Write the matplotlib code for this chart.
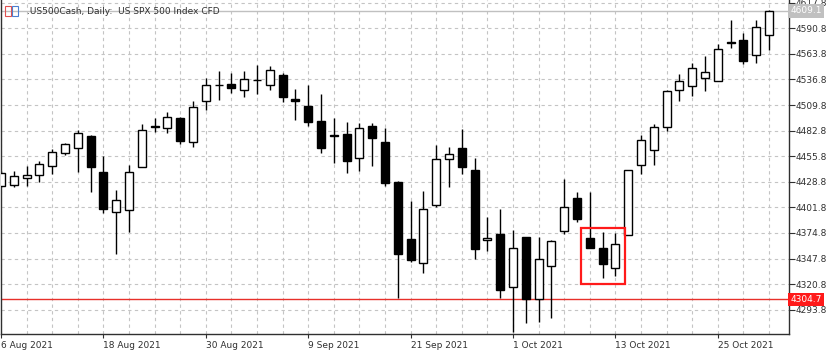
import matplotlib
matplotlib.use("Agg")
import matplotlib.pyplot as plt
from matplotlib.patches import Rectangle

# Daily OHLC values, 6 Aug 2021 .. 29 Oct 2021
dates = ["2021-08-06", "2021-08-09", "2021-08-10", "2021-08-11", "2021-08-12", "2021-08-13",
         "2021-08-16", "2021-08-17", "2021-08-18", "2021-08-19", "2021-08-20", "2021-08-23",
         "2021-08-24", "2021-08-25", "2021-08-26", "2021-08-27", "2021-08-30", "2021-08-31",
         "2021-09-01", "2021-09-02", "2021-09-03", "2021-09-06", "2021-09-07", "2021-09-08",
         "2021-09-09", "2021-09-10", "2021-09-13", "2021-09-14", "2021-09-15", "2021-09-16",
         "2021-09-17", "2021-09-20", "2021-09-21", "2021-09-22", "2021-09-23", "2021-09-24",
         "2021-09-27", "2021-09-28", "2021-09-29", "2021-09-30", "2021-10-01", "2021-10-04",
         "2021-10-05", "2021-10-06", "2021-10-07", "2021-10-08", "2021-10-11", "2021-10-12",
         "2021-10-13", "2021-10-14", "2021-10-15", "2021-10-18", "2021-10-19", "2021-10-20",
         "2021-10-21", "2021-10-22", "2021-10-25", "2021-10-26", "2021-10-27", "2021-10-28",
         "2021-10-29"]

opens = [4424.5, 4425.3, 4433.0, 4435.5, 4445.6, 4458.7, 4464.0, 4477.3, 4439.3, 4396.5,
         4398.9, 4444.3, 4487.5, 4486.1, 4496.2, 4470.3, 4514.6, 4531.0, 4532.1, 4525.8,
         4536.0, 4530.7, 4541.2, 4516.3, 4509.3, 4493.1, 4478.0, 4479.4, 4453.7, 4487.8,
         4470.3, 4428.8, 4368.3, 4343.4, 4403.9, 4453.0, 4464.3, 4441.4, 4367.3, 4373.9,
         4317.4, 4370.1, 4304.8, 4339.9, 4376.8, 4411.3, 4369.1, 4359.2, 4338.1, 4372.2,
         4446.0, 4462.5, 4486.7, 4525.4, 4530.0, 4538.8, 4534.9, 4576.3, 4578.9, 4563.1,
         4584.2]
highs = [4440.0, 4440.4, 4445.6, 4450.9, 4463.2, 4469.9, 4483.3, 4478.3, 4455.9, 4420.0,
         4446.4, 4489.6, 4496.2, 4502.2, 4497.3, 4514.2, 4538.8, 4545.5, 4543.7, 4546.2,
         4552.1, 4550.7, 4543.7, 4526.8, 4531.0, 4521.2, 4496.6, 4492.4, 4490.6, 4490.6,
         4485.1, 4429.8, 4408.4, 4419.0, 4467.4, 4465.0, 4484.0, 4454.1, 4391.5, 4400.3,
         4377.8, 4370.8, 4370.8, 4367.3, 4431.6, 4418.2, 4418.2, 4375.7, 4375.0, 4440.8,
         4478.0, 4489.6, 4526.2, 4542.3, 4554.2, 4561.3, 4574.7, 4599.2, 4585.8, 4599.2,
         4610.5]
lows = [4423.2, 4422.9, 4424.5, 4428.8, 4436.9, 4457.6, 4438.7, 4417.6, 4395.4, 4352.5,
        4376.0, 4443.9, 4481.2, 4480.4, 4468.5, 4465.7, 4504.3, 4515.6, 4522.0, 4518.4,
        4521.5, 4525.4, 4512.8, 4493.8, 4487.5, 4458.7, 4448.8, 4437.6, 4440.4, 4445.3,
        4424.2, 4306.5, 4344.1, 4332.8, 4402.4, 4422.9, 4436.9, 4346.9, 4355.7, 4306.5,
        4270.6, 4279.5, 4281.2, 4285.4, 4373.3, 4386.6, 4359.2, 4327.5, 4329.3, 4372.2,
        4436.9, 4446.7, 4482.5, 4513.8, 4519.4, 4524.7, 4534.9, 4570.5, 4553.6, 4554.2,
        4567.6]
closes = [4438.2, 4434.4, 4435.5, 4447.4, 4459.8, 4468.2, 4480.4, 4443.9, 4400.0, 4409.5,
          4439.3, 4483.0, 4486.7, 4497.0, 4472.0, 4507.8, 4531.0, 4530.5, 4528.3, 4537.3,
          4536.6, 4546.8, 4518.1, 4514.2, 4492.4, 4464.0, 4477.4, 4450.6, 4486.1, 4474.8,
          4427.1, 4352.5, 4346.5, 4399.7, 4452.4, 4458.3, 4444.6, 4357.8, 4369.4, 4314.6,
          4359.2, 4304.8, 4346.9, 4366.6, 4401.8, 4389.7, 4359.2, 4342.0, 4363.1, 4440.8,
          4472.7, 4486.7, 4524.4, 4535.2, 4549.4, 4544.4, 4569.4, 4575.8, 4556.7, 4592.6,
          4609.1]

price_ticks = [4293.8, 4320.8, 4347.8, 4374.8, 4401.8, 4428.8, 4455.8, 4482.8,
               4509.8, 4536.8, 4563.8, 4590.8, 4617.8]
date_labels = ["6 Aug 2021", "18 Aug 2021", "30 Aug 2021", "9 Sep 2021",
               "21 Sep 2021", "1 Oct 2021", "13 Oct 2021", "25 Oct 2021"]
last_price = 4609.1
level_price = 4304.7
box_bars = (46, 48)          # highlighted bars (11-13 Oct)
box_prices = (4321.2, 4379.6)

W, H = 827, 353
fig = plt.figure(figsize=(W / 100, H / 100), dpi=100)
fig.patch.set_facecolor("white")
ax = fig.add_axes([0.5 / W, 1 - 334.3 / H, 788 / W, 334.3 / H])

n = len(dates)
x = list(range(n))
ax.set_xlim(-0.04, 61.52)
ax.set_ylim(4267.8, 4620.7)

# grid
for p in price_ticks:
    ax.axhline(p, color="#c4c4c4", lw=0.8, ls=(0, (3, 3)), zorder=0)
for i in range(0, 62, 2):
    ax.axvline(i, color="#c4c4c4", lw=0.8, ls=(0, (3, 3)), zorder=0)

# price lines
ax.axhline(last_price, color="#c0c0c0", lw=1.0, zorder=1)
ax.axhline(level_price, color="#e8302a", lw=1.0, zorder=1)

# candles
ax.vlines(x, lows, highs, color="black", lw=1.0, zorder=2)
bottoms = [min(o, c) for o, c in zip(opens, closes)]
heights = [max(abs(c - o), 0.6) for o, c in zip(opens, closes)]
colors = ["white" if c >= o else "black" for o, c in zip(opens, closes)]
ax.bar(x, heights, bottom=bottoms, width=0.62, color=colors,
       edgecolor="black", linewidth=1.0, zorder=3)

# highlight box
ax.add_patch(Rectangle((box_bars[0] - 0.7, box_prices[0]),
                       box_bars[1] - box_bars[0] + 1.45, box_prices[1] - box_prices[0],
                       fill=False, edgecolor="#ff1a1a", lw=1.6, zorder=4))

# axes styling
for side in ["top"]:
    ax.spines[side].set_visible(False)
for side in ["left", "right", "bottom"]:
    ax.spines[side].set_color("#303030")
    ax.spines[side].set_linewidth(1.0)

ax.yaxis.tick_right()
ax.set_yticks(price_ticks)
ax.set_yticklabels([f"{p:.1f}" for p in price_ticks])
ax.tick_params(axis="y", direction="out", length=4, width=0.8, pad=1,
               labelsize=6.5, colors="#303030", labelcolor="#303030")

ax.set_xticks(list(range(0, 57, 8)))
ax.set_xticklabels(date_labels, ha="left")
ax.tick_params(axis="x", direction="out", length=3, width=0.8, pad=2,
               labelsize=6.5, colors="#303030", labelcolor="#303030")

# price tags on the right
ax.text(1.002, (last_price - 4267.8) / (4620.7 - 4267.8), f"{last_price:.1f}",
        transform=ax.transAxes, ha="left", va="center", fontsize=6.5, color="white",
        bbox=dict(boxstyle="square,pad=0.25", fc="#c0c0c0", ec="none"), zorder=6)
ax.text(1.002, (level_price - 4267.8) / (4620.7 - 4267.8), f"{level_price:.1f}",
        transform=ax.transAxes, ha="left", va="center", fontsize=6.5, color="white",
        bbox=dict(boxstyle="square,pad=0.25", fc="#ff1a1a", ec="none"), zorder=6)

# header with small icon
fig.patches.append(Rectangle((5 / W, 1 - 16 / H), 6 / W, 10 / H, transform=fig.transFigure,
                             fill=False, ec="#e05050", lw=0.8))
fig.patches.append(Rectangle((12 / W, 1 - 16 / H), 6 / W, 10 / H, transform=fig.transFigure,
                             fill=False, ec="#4a7fd0", lw=0.8))
fig.text(27 / W, 1 - 11.5 / H, ".US500Cash, Daily:  US SPX 500 Index CFD",
         ha="left", va="center", fontsize=6.5, color="#303030")

fig.savefig("out.png", dpi=100, facecolor="white")
